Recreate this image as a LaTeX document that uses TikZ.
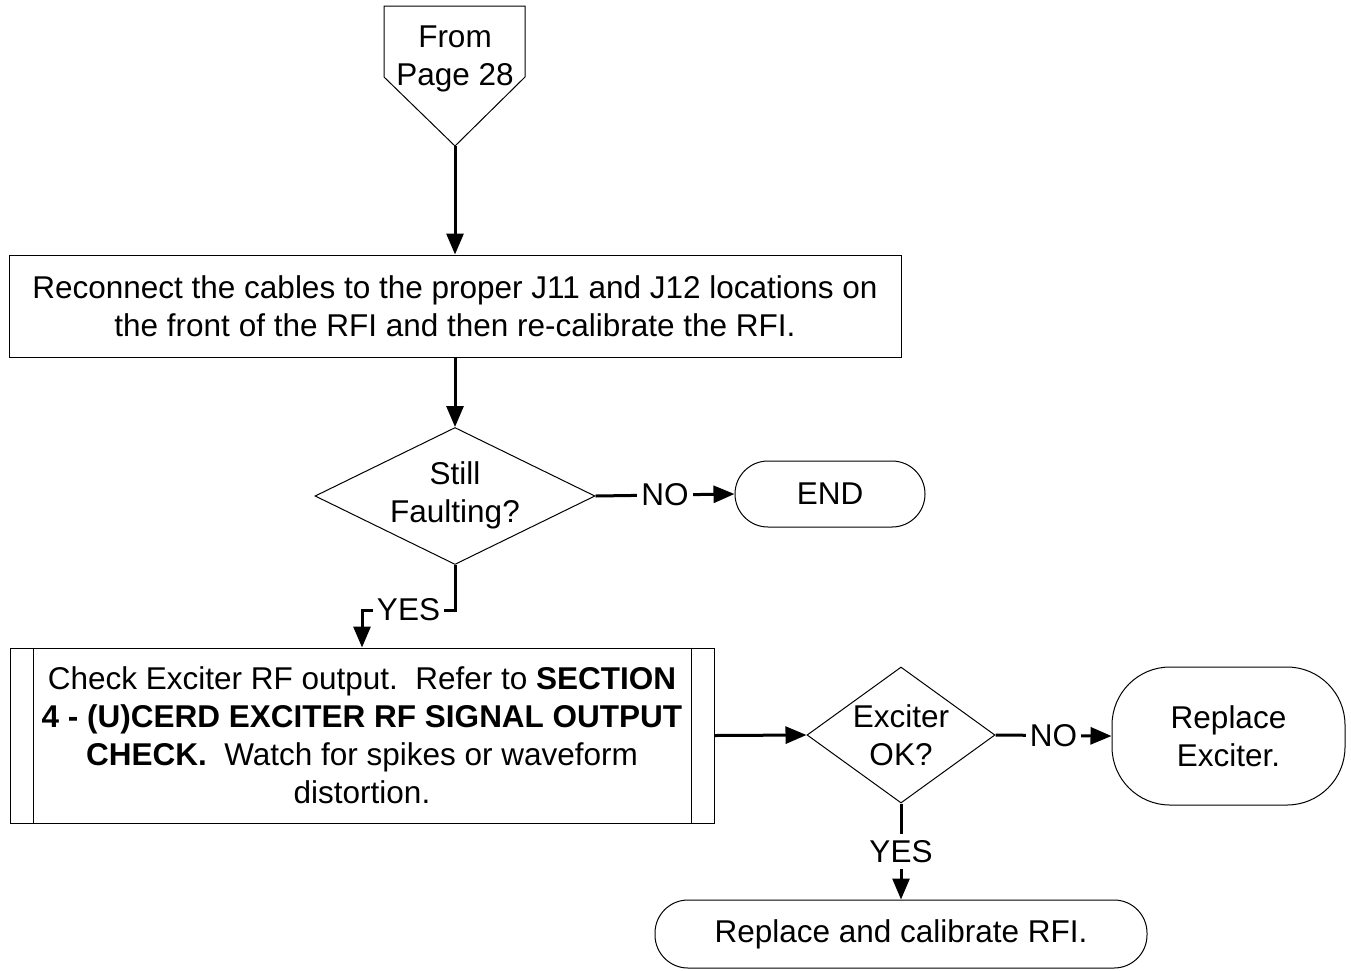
\documentclass[tikz,border=0pt]{standalone}
\usepackage{fontspec}
\setmainfont{Liberation Sans}
\usetikzlibrary{shapes.geometric,arrows.meta}
\begin{document}
\begin{tikzpicture}[x=1pt,y=-1pt,
  every node/.style={font=\fontsize{31.5}{38}\selectfont, align=center, inner sep=0pt},
  shapeline/.style={draw, line width=1pt},
  procbox/.style={shapeline, rectangle},
  termsmall/.style={shapeline, rectangle, rounded corners=33pt},
  termbig/.style={shapeline, rectangle, rounded corners=58pt},
  dec/.style={shapeline, diamond},
  conn/.style={line width=3pt, -{Triangle[length=21pt,width=17pt]}},
  lbl/.style={fill=white, inner xsep=4pt, inner ysep=6pt}
]
\useasboundingbox (0,0) rectangle (1351,970);

% off-page connector
\draw[shapeline] (384,6) -- (525,6) -- (525,77) -- (455,146) -- (384,77) -- cycle;
\coordinate (fromtip) at (455,146);
\node (fromtxt) at (455,59) {From\\Page 28};

% process box 1
\node[procbox, minimum width=892pt, minimum height=102pt] (b1) at (455,306)
  {Reconnect the cables to the proper J11 and J12 locations on\\the front of the RFI and then re-calibrate the RFI.};

% decision 1
\node[dec, minimum width=280pt, minimum height=137pt] (d1) at (455,496) {};
\node (d1t) at (455,495) {Still\\Faulting?};

% END terminal
\node[termsmall, minimum width=190pt, minimum height=66pt] (endn) at (830,494) {END};

% predefined process box 2
\node[procbox, minimum width=704pt, minimum height=175pt] (b2) at (362,735.5)
  {Check Exciter RF output.\ \ Refer to \textbf{SECTION}\\
   \textbf{4 - (U)CERD EXCITER RF SIGNAL OUTPUT}\\
   \textbf{CHECK.}\ \ Watch for spikes or waveform\\
   distortion.};
\draw[shapeline] ([xshift=24pt]b2.north west) -- ([xshift=24pt]b2.south west);
\draw[shapeline] ([xshift=-23pt]b2.north east) -- ([xshift=-23pt]b2.south east);

% decision 2
\node[dec, minimum width=188pt, minimum height=136pt] (d2) at (901,735) {};
\node (d2t) at (901,735) {Exciter\\OK?};

% Replace Exciter terminal
\node[termbig, minimum width=233pt, minimum height=138pt] (rexc) at (1228.5,736) {Replace\\Exciter.};

% Replace and calibrate terminal
\node[termsmall, minimum width=492pt, minimum height=68pt] (rrfi) at (901,934) {Replace and calibrate RFI.};

% connectors
\draw[conn] (fromtip) -- (b1.north);
\draw[conn] (b1.south) -- (d1.north);
\draw[conn] (d1.east) -- node[lbl] {NO} (endn.west);
\draw[conn] (d1.south) -- ++(0,45) -| node[pos=0.25, lbl] {YES} (b2.north);
\draw[conn] (b2.east) -- (d2.west);
\draw[conn] (d2.east) -- node[lbl] {NO} (rexc.west);
\draw[conn] (d2.south) -- node[lbl] {YES} (rrfi.north);
\end{tikzpicture}
\end{document}
